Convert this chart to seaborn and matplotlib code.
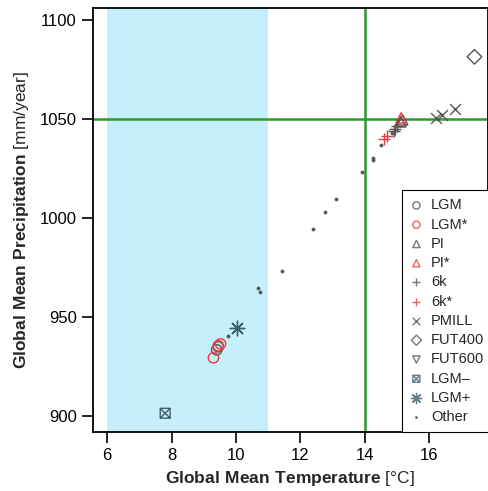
import numpy as np
import pandas as pd
import matplotlib
matplotlib.use("Agg")
import matplotlib.pyplot as plt
from matplotlib.path import Path
import seaborn as sns

# data (temperature degC, precipitation mm/year)
lgm_t = [9.40, 9.45]
lgm_p = [933.5, 935.0]
lgm_s_t = [9.30, 9.45, 9.52]
lgm_s_p = [929.5, 935.5, 936.5]
pi_t = [15.12, 15.18]
pi_p = [1048.5, 1049.5]
pi_s_t = [15.13]
pi_s_p = [1050.5]
k6_t = [14.90, 14.95, 15.00]
k6_p = [1044.0, 1045.0, 1046.5]
k6_s_t = [14.60, 14.68]
k6_s_p = [1040.0, 1041.5]
pmill_t = [16.22, 16.39, 16.81]
pmill_p = [1050.2, 1051.9, 1055.2]
fut400_t = [17.41]
fut400_p = [1081.3]
fut600_t = []
fut600_p = []
lgm_minus_t = [7.80]
lgm_minus_p = [901.5]
lgm_plus_t = [10.02]
lgm_plus_p = [944.5]
other_t = [9.75, 10.69, 10.75, 11.42, 12.39, 12.77, 13.11, 13.93, 14.27, 14.27, 14.50, 14.85]
other_p = [940.3, 964.6, 962.6, 973.4, 994.4, 1002.9, 1009.4, 1023.2, 1030.5, 1029.0, 1036.7, 1043.0]

sns.set_style("ticks")
plt.rcParams['font.family'] = ['Liberation Sans', 'DejaVu Sans']
plt.rcParams['mathtext.fontset'] = 'custom'
plt.rcParams['mathtext.rm'] = 'Liberation Sans'
plt.rcParams['mathtext.bf'] = 'Liberation Sans:bold'

# square with an x inside
box_x = Path([(-1, -1), (1, -1), (1, 1), (-1, 1), (-1, -1), (-1, -1), (1, 1), (-1, 1), (1, -1)],
             [Path.MOVETO, Path.LINETO, Path.LINETO, Path.LINETO, Path.CLOSEPOLY,
              Path.MOVETO, Path.LINETO, Path.MOVETO, Path.LINETO])

gray = '#555555'
red = '#ee3b3b'
slate = '#3f5f6a'
groups = [
    ('LGM', lgm_t, lgm_p, 'o', gray, 55),
    ('LGM*', lgm_s_t, lgm_s_p, 'o', red, 55),
    ('PI', pi_t, pi_p, '^', gray, 55),
    ('PI*', pi_s_t, pi_s_p, '^', red, 55),
    ('6k', k6_t, k6_p, '+', gray, 80),
    ('6k*', k6_s_t, k6_s_p, '+', red, 80),
    ('PMILL', pmill_t, pmill_p, 'x', gray, 60),
    ('FUT400', fut400_t, fut400_p, 'D', gray, 55),
    ('FUT600', fut600_t, fut600_p, 'v', gray, 55),
    ('LGM\u2013', lgm_minus_t, lgm_minus_p, box_x, slate, 50),
    ('LGM+', lgm_plus_t, lgm_plus_p, (8, 2, 0), slate, 110),
    ('Other', other_t, other_p, 'o', gray, 5),
]
line_markers = {'+', 'x'}

fig = plt.figure(figsize=(4.88, 4.91), dpi=100)
ax = fig.add_axes([0.19, 0.12, 0.81, 0.864])

ax.axvspan(6, 11, color='#c6effd', zorder=0, lw=0)
ax.axvline(14, color='#2e982e', lw=1.8, zorder=1)
ax.axhline(1050, color='#2e982e', lw=1.8, zorder=1)

for name, t, p, m, c, s in groups:
    is_line = (isinstance(m, str) and m in line_markers) or isinstance(m, tuple)
    if len(t) == 0:
        ax.scatter([], [], marker=m, s=s, facecolor='none', edgecolor=c, linewidths=1.0, label=name)
        continue
    df = pd.DataFrame({'temp': t, 'precip': p})
    if name == 'Other':
        sns.scatterplot(data=df, x='temp', y='precip', ax=ax, marker='o', s=s,
                        color=c, edgecolor=c, linewidth=0.5, label=name, zorder=3)
    elif is_line:
        sns.scatterplot(data=df, x='temp', y='precip', ax=ax, marker=m, s=s,
                        color=c, linewidth=1.0, label=name, zorder=3)
    else:
        sns.scatterplot(data=df, x='temp', y='precip', ax=ax, marker=m, s=s,
                        color=c, facecolor='none', edgecolor=c, linewidth=1.0,
                        label=name, zorder=3)

ax.set_xlim(5.55, 17.83)
ax.set_ylim(892, 1106)
ax.set_xticks([6, 8, 10, 12, 14, 16])
ax.set_yticks([900, 950, 1000, 1050, 1100])
ax.tick_params(labelsize=12, length=8, width=1.2, direction='out', colors='black')
for sp in ax.spines.values():
    sp.set_linewidth(1.3)
    sp.set_color('black')

ax.set_xlabel(r'$\mathbf{Global\ Mean\ Temperature}$ [°C]', fontsize=12.5, labelpad=4)
ax.set_ylabel(r'$\mathbf{Global\ Mean\ Precipitation}$ [mm/year]', fontsize=12.5, labelpad=6)

leg = ax.legend(loc='lower left', bbox_to_anchor=(0.782, 0.0), fontsize=10.5,
                frameon=True, fancybox=False, edgecolor='black', framealpha=1,
                borderpad=0.55, labelspacing=0.36, handletextpad=0.55, handlelength=0.9,
                borderaxespad=0, markerscale=0.7)
leg.get_frame().set_linewidth(0.8)
for h in leg.legend_handles:
    try:
        h.set_alpha(0.8)
    except Exception:
        pass

fig.savefig('out.png', dpi=100)
